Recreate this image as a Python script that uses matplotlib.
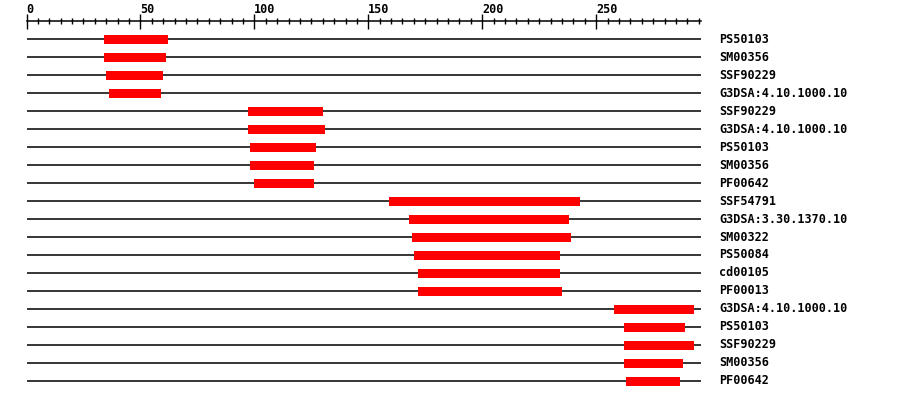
import matplotlib.pyplot as plt
from matplotlib.ticker import MultipleLocator

# domain hits, top to bottom
names = ["PS50103", "SM00356", "SSF90229", "G3DSA:4.10.1000.10",
         "SSF90229", "G3DSA:4.10.1000.10", "PS50103", "SM00356", "PF00642",
         "SSF54791", "G3DSA:3.30.1370.10", "SM00322", "PS50084", "cd00105",
         "PF00013", "G3DSA:4.10.1000.10", "PS50103", "SSF90229", "SM00356",
         "PF00642"]
starts = [34, 34, 35, 36, 97, 97, 98, 98, 100, 159, 168, 169, 170, 172,
          172, 258, 262, 262, 262, 263]
ends = [62, 61, 60, 59, 130, 131, 127, 126, 126, 243, 238, 239, 234, 234,
        235, 293, 289, 293, 288, 287]
seq_len = 296

W, H = 900, 400
fig = plt.figure(figsize=(W / 100, H / 100), dpi=100)
# ruler at y=21px, rows every 18px starting at 39px
ax = fig.add_axes([26.5 / W, 1 / H, 674.5 / W, 378 / H])
ax.set_xlim(0, seq_len)
ax.set_ylim(20, -1)

for i, (name, s, e) in enumerate(zip(names, starts, ends)):
    ax.plot([0, seq_len], [i, i], color="black", lw=1.1, zorder=1)
    ax.barh(i, e - s, left=s, height=0.5, color="#ff0000", zorder=2)
    ax.text(seq_len + 7.9, i, name, ha="left", va="center",
            family="DejaVu Sans Mono", weight="bold", fontsize=8.5,
            clip_on=False)

for sp in ["left", "right", "bottom"]:
    ax.spines[sp].set_visible(False)
ax.spines["top"].set_linewidth(1.1)
ax.set_yticks([])
ax.xaxis.set_major_locator(MultipleLocator(50))
ax.xaxis.set_minor_locator(MultipleLocator(5))
ax.tick_params(axis="x", which="both", top=True, bottom=False,
               labeltop=True, labelbottom=False, direction="inout", width=1.0)
ax.tick_params(axis="x", which="major", length=10.8, pad=-1.5,
               labelsize=8.5)
ax.tick_params(axis="x", which="minor", length=5)
for lab in ax.get_xticklabels():
    lab.set_ha("left")
    lab.set_family("DejaVu Sans Mono")
    lab.set_weight("bold")

fig.savefig("out.png", dpi=100)
